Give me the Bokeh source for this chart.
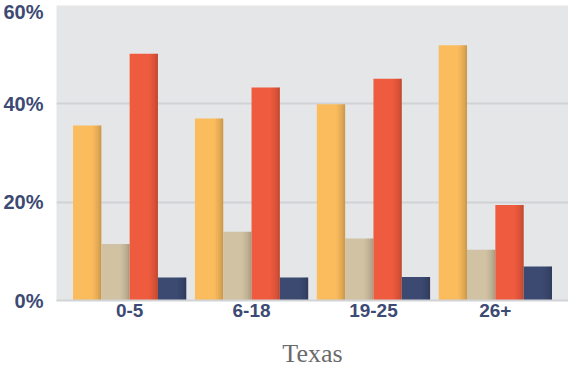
from bokeh.plotting import figure
from bokeh.models import FactorRange, FixedTicker, ColumnDataSource
from bokeh.transform import dodge
from bokeh.embed import file_html
from bokeh.resources import INLINE

# ---- data ----
categories = ["0-5", "6-18", "19-25", "26+"]
series_yellow = [35.6, 37.0, 39.9, 51.9]
series_tan = [11.5, 14.0, 12.6, 10.3]
series_red = [50.2, 43.3, 45.1, 19.4]
series_navy = [4.7, 4.7, 4.8, 6.9]
y_ticks = [0, 20, 40, 60]
y_tick_labels = ["0%", "20%", "40%", "60%"]
x_title = "Texas"

# ---- styles ----
series_names = ["yellow", "tan", "red", "navy"]
series_colors = ["#FBBC5E", "#D0C2A2", "#EF5B3E", "#3C4A72"]
label_color = "#3D4A73"
bar_w = 0.2323

source = ColumnDataSource(dict(cat=categories, yellow=series_yellow, tan=series_tan,
                               red=series_red, navy=series_navy))

p = figure(x_range=FactorRange(*categories, range_padding=0.1, range_padding_units="absolute"),
           y_range=(0, 60), width=568, height=370,
           output_backend="svg", toolbar_location=None,
           min_border_left=47, min_border_right=0, min_border_top=5, min_border_bottom=0)

p.background_fill_color = "#E5E6E8"
p.border_fill_color = "white"
p.outline_line_color = None

# bars with simulated right-edge shading
shade_alphas = [0.02, 0.05, 0.08, 0.12, 0.18]
shade_frac = 0.32
for i, (name, col) in enumerate(zip(series_names, series_colors)):
    off = (i - 1.5) * bar_w
    p.vbar(x=dodge("cat", off, range=p.x_range), top=name, width=bar_w, source=source,
           fill_color=col, line_color=None)
    n = len(shade_alphas)
    sw = bar_w * shade_frac / n
    for k, a in enumerate(shade_alphas):
        c = off + bar_w / 2 - bar_w * shade_frac + (k + 0.5) * sw
        p.vbar(x=dodge("cat", c, range=p.x_range), top=name, width=sw, source=source,
               fill_color="black", fill_alpha=a, line_color=None)

# grid
p.xgrid.visible = False
p.ygrid.ticker = FixedTicker(ticks=y_ticks)
p.ygrid.grid_line_color = "#D2D2D5"
p.ygrid.grid_line_width = 2

# y axis
p.yaxis.ticker = FixedTicker(ticks=y_ticks)
p.yaxis.major_label_overrides = {t: l for t, l in zip(y_ticks, y_tick_labels)}
p.yaxis.axis_line_color = None
p.yaxis.major_tick_line_color = None
p.yaxis.minor_tick_line_color = None
p.yaxis.major_label_text_font = "Liberation Sans"
p.yaxis.major_label_text_font_style = "bold"
p.yaxis.major_label_text_font_size = "20px"
p.yaxis.major_label_text_color = label_color
p.yaxis.major_label_standoff = 7

# x axis
p.xaxis.axis_line_color = "#D2D3D6"
p.xaxis.axis_line_width = 2
p.xaxis.major_tick_line_color = None
p.xaxis.minor_tick_line_color = None
p.xaxis.major_tick_out = 0
p.xaxis.major_label_text_font = "Liberation Sans"
p.xaxis.major_label_text_font_style = "bold"
p.xaxis.major_label_text_font_size = "19px"
p.xaxis.major_label_text_color = label_color
p.xaxis.major_label_standoff = 3
p.xaxis.axis_label = x_title
p.xaxis.axis_label_text_font = "Liberation Serif"
p.xaxis.axis_label_text_font_style = "normal"
p.xaxis.axis_label_text_font_size = "26px"
p.xaxis.axis_label_text_color = "#6A6A6A"
p.xaxis.axis_label_standoff = 19

open("out.html", "w").write(file_html(p, INLINE))
